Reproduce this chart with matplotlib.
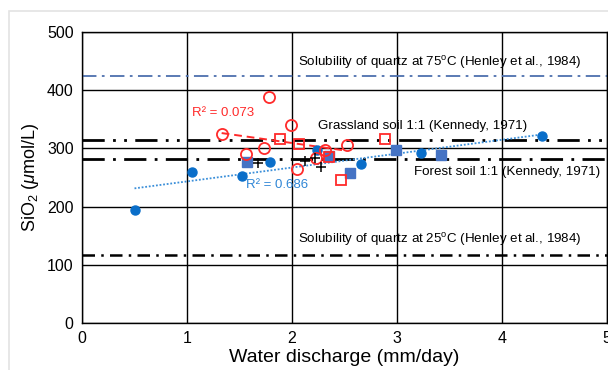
import matplotlib
matplotlib.use("Agg")
import matplotlib.pyplot as plt
import numpy as np
from matplotlib.patches import Rectangle

plt.rcParams['font.family'] = ['Liberation Sans', 'DejaVu Sans']
plt.rcParams['mathtext.fontset'] = 'custom'
plt.rcParams['mathtext.rm'] = 'Liberation Sans'
plt.rcParams['mathtext.it'] = 'Liberation Sans:italic'

# Data
blue_circ_x = [0.50, 1.05, 1.52, 1.79, 2.24, 2.66, 3.23, 4.38]
blue_circ_y = [195, 259, 252, 276, 298, 274, 292, 322]
blue_sq_x = [1.57, 2.35, 2.55, 2.99, 3.42]
blue_sq_y = [277, 287, 257, 297, 288]
red_circ_x = [1.78, 1.99, 1.33, 1.73, 1.56, 2.05, 2.23, 2.31, 2.52]
red_circ_y = [388, 341, 324, 301, 290, 265, 283, 298, 306]
red_sq_x = [1.89, 2.07, 2.35, 2.47, 2.89]
red_sq_y = [316, 307, 286, 246, 317]
plus_x = [1.68, 2.12, 2.22, 2.28]
plus_y = [275, 278, 283, 268]

ref_q75 = 424
ref_grass = 315
ref_forest = 282
ref_q25 = 116

xticks = [0, 1, 2, 3, 4, 5]
yticks = [0, 100, 200, 300, 400, 500]

fig = plt.figure(figsize=(6.08, 3.70), dpi=100)
fig.patches.append(Rectangle((9/608, -0.05), 1.2, 1.05 - 11/370, transform=fig.transFigure,
                             fill=False, edgecolor='#e3e3e3', linewidth=1.2, zorder=0))
ax = fig.add_axes([82/608, 1 - 323/370, 525/608, (323 - 32)/370])
ax.set_xlim(0, 5)
ax.set_ylim(0, 500)
ax.set_xticks(xticks)
ax.set_yticks(yticks)
ax.grid(True, color='black', linewidth=1.0, zorder=0)
for s in ax.spines.values():
    s.set_linewidth(1.0)
    s.set_color('black')
ax.tick_params(length=0, labelsize=11.5, pad=6)

# reference lines
ax.axhline(ref_q75, color='#4d6fae', linewidth=1.3, linestyle=(0, (8, 3, 1.5, 3)), zorder=2)
ax.axhline(ref_grass, color='black', linewidth=2.0, linestyle=(0, (8, 3, 1, 3, 1, 3)), zorder=2)
ax.axhline(ref_forest, color='black', linewidth=2.0, linestyle=(0, (8, 3, 1, 3)), zorder=2)
ax.axhline(ref_q25, color='black', linewidth=1.8, linestyle=(0, (5, 2.5, 1, 2.5)), zorder=2)

# trend lines
bx = np.array(blue_circ_x + blue_sq_x)
by = np.array(blue_circ_y + blue_sq_y)
pb = np.polyfit(bx, by, 1)
xb = np.array([min(bx), max(bx)])
ax.plot(xb, np.polyval(pb, xb), color='#3b8fd9', linestyle=(0, (1, 1)), linewidth=1.3, zorder=3)

rx = np.array(red_circ_x)
ry = np.array(red_circ_y)
pr = np.polyfit(rx, ry, 1)
xr = np.array([min(rx), max(rx)])
ax.plot(xr, np.polyval(pr, xr), color='#ff2a2a', linestyle=(0, (4, 2.5)), linewidth=1.4, zorder=3)

# points
ax.plot(blue_circ_x, blue_circ_y, 'o', color='#0a6ec9', markersize=6.5, zorder=4, linestyle='none')
ax.plot(blue_sq_x, blue_sq_y, 's', color='#4573c4', markersize=7, zorder=4, linestyle='none')
ax.plot(red_circ_x, red_circ_y, 'o', markerfacecolor='none', markeredgecolor='#ff2a2a',
        markeredgewidth=1.3, markersize=8, zorder=5, linestyle='none')
ax.plot(red_sq_x, red_sq_y, 's', markerfacecolor='none', markeredgecolor='#ff2a2a',
        markeredgewidth=1.3, markersize=7, zorder=5, linestyle='none')
ax.plot(plus_x, plus_y, '+', color='black', markersize=7, markeredgewidth=1.1, zorder=5, linestyle='none')

# labels
fs = 9.6
ax.text(2.06, 448, 'Solubility of quartz at 75$^\\mathrm{o}$C (Henley et al., 1984)', fontsize=fs, va='center', zorder=6)
ax.text(2.25, 338, 'Grassland soil 1:1 (Kennedy, 1971)', fontsize=fs, va='center', zorder=6)
ax.text(3.16, 259, 'Forest soil 1:1 (Kennedy, 1971)', fontsize=fs, va='center', zorder=6)
ax.text(2.06, 144, 'Solubility of quartz at 25$^\\mathrm{o}$C (Henley et al., 1984)', fontsize=fs, va='center', zorder=6)
ax.text(1.05, 360, 'R² = 0.073', color='#ff2a2a', fontsize=9.5, va='center', zorder=6)
ax.text(1.56, 237, 'R² = 0.686', color='#2f86d6', fontsize=9.5, va='center', zorder=6)

ax.set_xlabel('Water discharge (mm/day)', fontsize=14, labelpad=2)
ax.set_ylabel('SiO$_2$ ($\\mathit{\\mu}$mol/L)', fontsize=13, labelpad=4)

fig.savefig('out.png', dpi=100)
